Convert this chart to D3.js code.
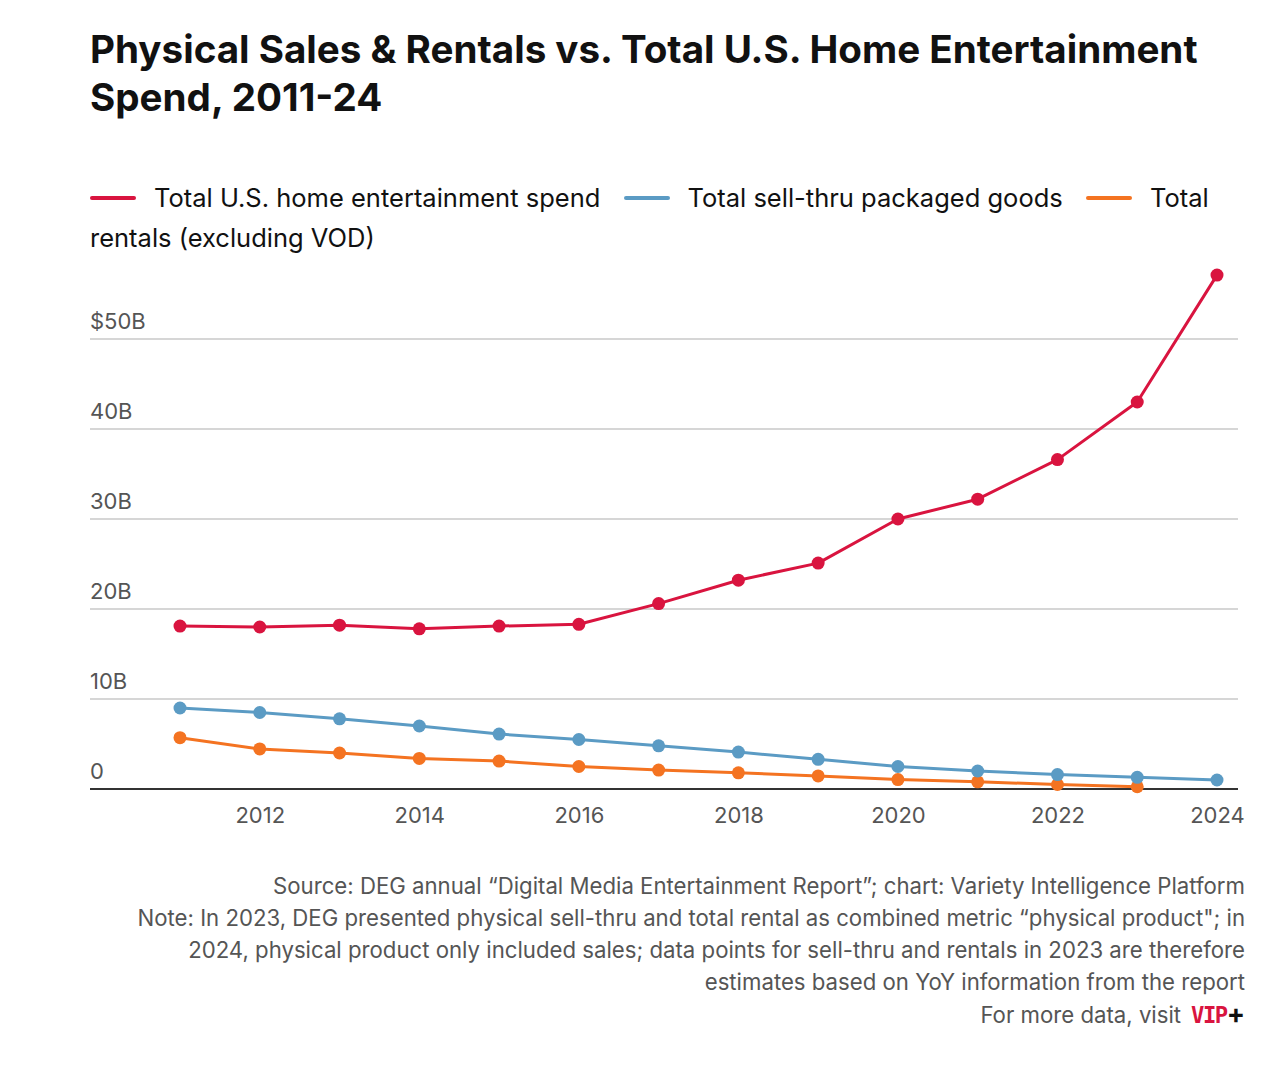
<!DOCTYPE html>
<html>
<head>
<meta charset="utf-8">
<script src="https://cdn.jsdelivr.net/npm/d3@7"></script>
<style>
  html, body { margin: 0; padding: 0; background: #fff; }
  body { width: 1268px; height: 1070px; position: relative; font-family: Inter, "Noto Sans", sans-serif; overflow: hidden; }
  #title { position: absolute; left: 90px; top: 25px; width: 1160px; font-size: 38.6px; font-weight: 700; line-height: 48px; color: #111; letter-spacing: 0px; margin: 0; }
  #legend { position: absolute; left: 90px; top: 178px; width: 1160px; font-size: 25.5px; line-height: 40px; color: #111; letter-spacing: 0px; }
  .sw { display: inline-block; width: 46px; height: 4px; border-radius: 2px; vertical-align: middle; margin-right: 18px; position: relative; top: -2px; }
  .gap { display: inline-block; width: 16px; }
  #chart { position: absolute; left: 0; top: 0; }
  #footer { position: absolute; right: 23px; top: 870px; width: 1200px; text-align: right; font-size: 22.2px; line-height: 32px; color: #555; letter-spacing: 0px; }
  .vip { font-family: "DejaVu Sans Mono", monospace; font-weight: 700; color: #d9143f; letter-spacing: -1.5px; margin-left: 10px; }
  .plus { font-weight: 700; color: #111; font-size: 27px; }
</style>
</head>
<body>
<h1 id="title">Physical Sales &amp; Rentals vs. Total U.S. Home Entertainment Spend, 2011-24</h1>
<div id="legend"></div>
<svg id="chart" width="1268" height="1070"></svg>
<div id="footer"></div>
<script>
const years = [2011,2012,2013,2014,2015,2016,2017,2018,2019,2020,2021,2022,2023,2024];
const totalSpend = [18.1,18.0,18.2,17.8,18.1,18.3,20.6,23.2,25.1,30.0,32.2,36.6,43.0,57.1];
const sellThru  = [9.0,8.5,7.8,7.0,6.1,5.5,4.8,4.1,3.3,2.5,2.0,1.6,1.3,1.0];
const rentals   = [5.7,4.45,4.0,3.4,3.1,2.5,2.1,1.8,1.45,1.05,0.8,0.5,0.25,null];
const seriesNames = ["Total U.S. home entertainment spend","Total sell-thru packaged goods","Total rentals (excluding VOD)"];
const seriesColors = ["#d9143f","#5b9bc4","#f47321"];
const yTicks = [0,10,20,30,40,50];
const yTickLabels = ["0","10B","20B","30B","40B","$50B"];
const xTicks = [2012,2014,2016,2018,2020,2022,2024];
const footerLines = [
  "Source: DEG annual \u201cDigital Media Entertainment Report\u201d; chart: Variety Intelligence Platform",
  "Note: In 2023, DEG presented physical sell-thru and total rental as combined metric \u201cphysical product\"; in",
  "2024, physical product only included sales; data points for sell-thru and rentals in 2023 are therefore",
  "estimates based on YoY information from the report"
];

const allSeries = [totalSpend, sellThru, rentals];

// Legend: swatch + words as separate inline spans so it wraps like the original
const legend = d3.select("#legend");
seriesNames.forEach((n,i) => {
  legend.append("span").attr("class","sw").style("background", seriesColors[i]);
  const words = n.split(" ");
  words.forEach((w,j) => {
    legend.append("span").text(w);
    if (j < words.length - 1) legend.append("span").text(" ");
  });
  legend.append("span").attr("class","gap");
  legend.append("span").text(" ");
});

// Footer
const footer = d3.select("#footer");
footerLines.forEach(l => footer.append("div").text(l));
const last = footer.append("div");
last.append("span").text("For more data, visit");
last.append("span").attr("class","vip").text("VIP");
last.append("span").attr("class","plus").text("+");

// Chart
const svg = d3.select("#chart");
const left = 90, right = 1238;
const x = d3.scaleLinear().domain([2011, 2024]).range([180, 1217]);
const y = d3.scaleLinear().domain([0, 50]).range([789, 339]);

const g = svg.append("g");
g.selectAll(".grid").data(yTicks.filter(d => d > 0)).join("line")
  .attr("x1", left).attr("x2", right)
  .attr("y1", d => y(d)).attr("y2", d => y(d))
  .attr("stroke", "#d6d6d6").attr("stroke-width", 2);
g.selectAll(".ylab").data(yTicks).join("text")
  .attr("x", left).attr("y", d => y(d) - 10)
  .attr("fill", "#555").attr("font-size", 22).attr("font-family", "Inter, sans-serif")
  .text((d,i) => yTickLabels[i]);

const xAxis = d3.axisBottom(x).tickValues(xTicks).tickFormat(d3.format("d")).tickSize(0).tickPadding(18);
const xg = svg.append("g").attr("transform", `translate(0,${y(0)})`).call(xAxis);
xg.select(".domain").remove();
xg.selectAll("text").attr("fill","#555").attr("font-size",22).attr("font-family","Inter, sans-serif");
svg.append("line").attr("x1", left).attr("x2", right).attr("y1", y(0)).attr("y2", y(0))
  .attr("stroke", "#333").attr("stroke-width", 2);

const order = [2,1,0];
order.forEach(si => {
  const data = years.map((yr,i) => ({yr, v: allSeries[si][i]})).filter(d => d.v != null);
  const line = d3.line().x(d => x(d.yr)).y(d => y(d.v));
  svg.append("path").datum(data).attr("d", line)
    .attr("fill","none").attr("stroke", seriesColors[si]).attr("stroke-width", 3).attr("stroke-linejoin","round");
  svg.append("g").selectAll("circle").data(data).join("circle")
    .attr("cx", d => x(d.yr)).attr("cy", d => y(d.v)).attr("r", 6.5)
    .attr("fill", seriesColors[si]);
});
</script>
</body>
</html>
